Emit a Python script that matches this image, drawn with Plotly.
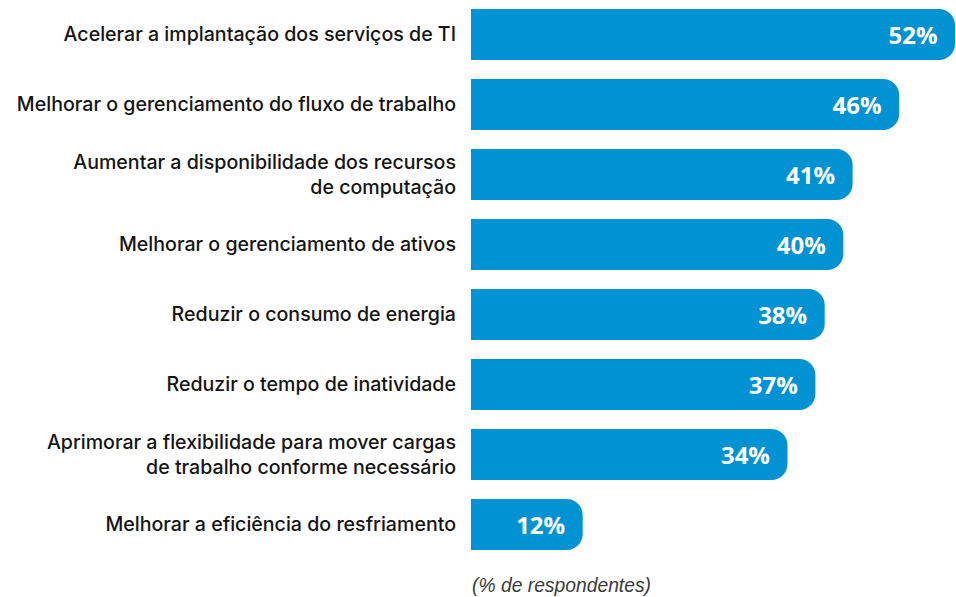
import plotly.graph_objects as go

categories = [
    "Acelerar a implantação dos serviços de TI",
    "Melhorar o gerenciamento do fluxo de trabalho",
    "Aumentar a disponibilidade dos recursos<br>de computação",
    "Melhorar o gerenciamento de ativos",
    "Reduzir o consumo de energia",
    "Reduzir o tempo de inatividade",
    "Aprimorar a flexibilidade para mover cargas<br>de trabalho conforme necessário",
    "Melhorar a eficiência do resfriamento",
]
values = [52, 46, 41, 40, 38, 37, 34, 12]
value_labels = [f"{v}%" for v in values]
axis_note = "(% de respondentes)"

BAR_COLOR = "#0092D2"
PAD = "\u00a0\u00a0"

fig = go.Figure(
    go.Bar(
        x=values,
        y=categories,
        orientation="h",
        marker=dict(color=BAR_COLOR, cornerradius=16, line=dict(width=0)),
        text=[t + PAD for t in value_labels],
        textposition="inside",
        insidetextanchor="end",
        textangle=0,
        textfont=dict(family="Open Sans", size=24, color="white", weight=700),
        hoverinfo="skip",
    )
)

fig.update_layout(
    width=956,
    height=597,
    margin=dict(l=471, r=1, t=0, b=37),
    paper_bgcolor="white",
    plot_bgcolor="white",
    bargap=0.27,
    showlegend=False,
    xaxis=dict(range=[0, 52], visible=False, fixedrange=True),
    yaxis=dict(
        range=[7.507, -0.493],
        showgrid=False,
        zeroline=False,
        showline=False,
        ticks="",
        ticklabelstandoff=14,
        tickfont=dict(family="Inter", size=19.6, color="#141414", weight=500),
        fixedrange=True,
    ),
)

fig.add_annotation(
    text=axis_note,
    xref="paper",
    yref="paper",
    x=0,
    y=0,
    xshift=-1,
    yshift=-13,
    xanchor="left",
    yanchor="top",
    showarrow=False,
    font=dict(family="Liberation Sans", size=19.3, color="#3a3a3a", style="italic"),
)

fig.write_html(
    "out.html",
    config={"displayModeBar": False},
    post_script="document.body.style.margin='0';document.body.style.overflow='hidden';",
)
